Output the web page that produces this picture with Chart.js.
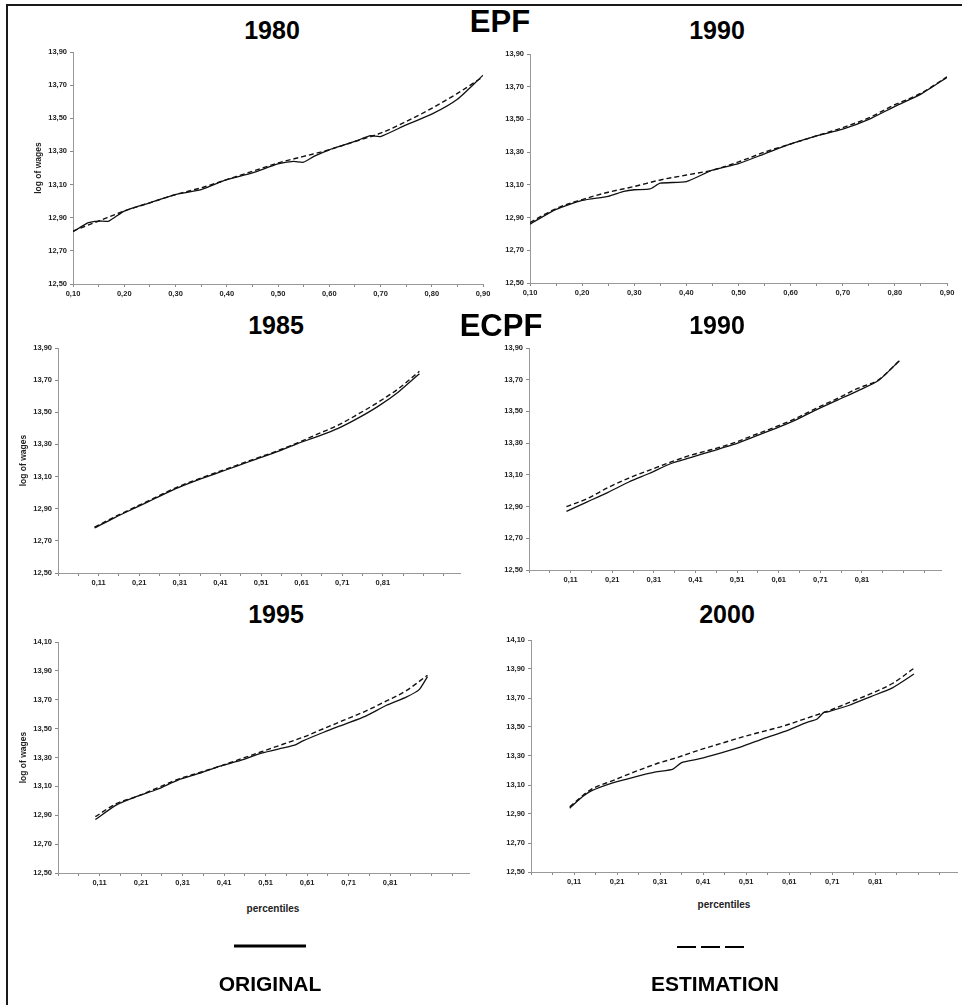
<!DOCTYPE html>
<html lang="en">
<head>
    <meta charset="UTF-8">
    <title>EPF / ECPF log of wages by percentile</title>
    <script src="https://cdn.jsdelivr.net/npm/chart.js"></script>
    <style>
        body {
            margin: 0;
            background: #fff;
            font-family: 'Liberation Sans', Arial, sans-serif;
        }
        #page {
            position: relative;
            width: 962px;
            height: 1005px;
            overflow: hidden;
            background: #fff;
        }
        #page canvas {
            position: absolute;
        }
        .frame {
            position: absolute;
            background: #1a1a1a;
        }
        .lbl {
            position: absolute;
            transform: translate(-50%, -50%);
            font-weight: bold;
            line-height: 1;
            white-space: nowrap;
            color: #000;
        }
        .year { font-size: 25px; }
        .group { font-size: 31px; }
        .axisname { font-size: 10px; color: #222; }
        .legendtext { font-size: 21px; }
    </style>
</head>
<body>
<div id="page">
    <div class="frame" style="left:6px; top:4px; width:956px; height:2px;"></div>
    <div class="frame" style="left:6px; top:4px; width:2px; height:1001px;"></div>

    <div class="lbl year" style="left:272px; top:30px;">1980</div>
    <div class="lbl group" style="left:500px; top:21px;">EPF</div>
    <div class="lbl year" style="left:717px; top:30px;">1990</div>
    <div class="lbl year" style="left:276px; top:325px;">1985</div>
    <div class="lbl group" style="left:501px; top:325px;">ECPF</div>
    <div class="lbl year" style="left:717px; top:325px;">1990</div>
    <div class="lbl year" style="left:276px; top:614px;">1995</div>
    <div class="lbl year" style="left:727px; top:614px;">2000</div>

    <div class="lbl axisname" style="left:273px; top:909px;">percentiles</div>
    <div class="lbl axisname" style="left:724px; top:905px;">percentiles</div>

    <svg style="position:absolute; left:0; top:0;" width="962" height="1005">
        <line x1="234" y1="946" x2="306" y2="946" stroke="#000" stroke-width="3"/>
        <line x1="677" y1="947" x2="744" y2="947" stroke="#000" stroke-width="2" stroke-dasharray="19 5"/>
    </svg>
    <div class="lbl legendtext" style="left:270px; top:983px;">ORIGINAL</div>
    <div class="lbl legendtext" style="left:715px; top:983px;">ESTIMATION</div>
</div>

<script>
    // percentile grid used by the estimations (and most originals)
    const pct = [0.10, 0.15, 0.20, 0.25, 0.30, 0.35, 0.40, 0.45, 0.50, 0.55, 0.60, 0.65, 0.70, 0.75, 0.80, 0.85, 0.90];

    // EPF 1980
    const orig1980Pct = [0.10, 0.13, 0.15, 0.17, 0.20, 0.25, 0.30, 0.35, 0.40, 0.45, 0.50, 0.53, 0.55, 0.57, 0.60, 0.65, 0.68, 0.70, 0.75, 0.80, 0.85, 0.90];
    const orig1980 = [12.815, 12.87, 12.88, 12.88, 12.94, 12.99, 13.04, 13.07, 13.13, 13.17, 13.225, 13.24, 13.235, 13.27, 13.31, 13.36, 13.395, 13.39, 13.46, 13.525, 13.615, 13.76];
    const est1980 = [12.82, 12.88, 12.94, 12.99, 13.04, 13.08, 13.13, 13.18, 13.23, 13.27, 13.31, 13.36, 13.41, 13.48, 13.56, 13.65, 13.75];

    // EPF 1990
    const origEpf1990Pct = [0.10, 0.15, 0.20, 0.25, 0.28, 0.30, 0.33, 0.35, 0.40, 0.45, 0.50, 0.55, 0.60, 0.65, 0.70, 0.75, 0.80, 0.85, 0.90];
    const origEpf1990 = [12.86, 12.95, 13.005, 13.03, 13.06, 13.07, 13.075, 13.11, 13.12, 13.19, 13.23, 13.29, 13.35, 13.40, 13.44, 13.50, 13.58, 13.655, 13.757];
    const estEpf1990 = [12.87, 12.955, 13.01, 13.055, 13.09, 13.13, 13.16, 13.19, 13.24, 13.30, 13.35, 13.40, 13.45, 13.51, 13.59, 13.66, 13.76];

    // ECPF 1985
    const orig1985 = [12.78, 12.845, 12.905, 12.965, 13.025, 13.075, 13.12, 13.165, 13.21, 13.255, 13.305, 13.35, 13.40, 13.465, 13.54, 13.63, 13.74];
    const est1985 = [12.785, 12.85, 12.91, 12.97, 13.03, 13.08, 13.125, 13.17, 13.215, 13.26, 13.31, 13.365, 13.42, 13.49, 13.565, 13.65, 13.755];

    // ECPF 1990
    const origEcpf1990 = [12.87, 12.93, 12.99, 13.055, 13.11, 13.17, 13.21, 13.25, 13.29, 13.34, 13.39, 13.445, 13.51, 13.57, 13.63, 13.695, 13.82];
    const estEcpf1990 = [12.90, 12.95, 13.02, 13.08, 13.13, 13.18, 13.225, 13.26, 13.30, 13.35, 13.40, 13.455, 13.52, 13.58, 13.645, 13.70, 13.82];

    // ECPF 1995
    const orig1995Pct = [0.10, 0.15, 0.20, 0.25, 0.30, 0.35, 0.40, 0.45, 0.50, 0.55, 0.58, 0.60, 0.65, 0.70, 0.75, 0.80, 0.85, 0.88, 0.90];
    const orig1995 = [12.87, 12.97, 13.03, 13.08, 13.145, 13.19, 13.24, 13.28, 13.33, 13.365, 13.385, 13.415, 13.475, 13.53, 13.585, 13.66, 13.72, 13.77, 13.86];
    const est1995 = [12.89, 12.98, 13.03, 13.09, 13.15, 13.195, 13.24, 13.29, 13.34, 13.39, 13.44, 13.50, 13.56, 13.62, 13.69, 13.765, 13.87];

    // ECPF 2000
    const orig2000Pct = [0.10, 0.13, 0.15, 0.20, 0.25, 0.30, 0.34, 0.36, 0.40, 0.45, 0.50, 0.55, 0.60, 0.65, 0.675, 0.69, 0.70, 0.75, 0.80, 0.85, 0.90];
    const orig2000 = [12.94, 13.02, 13.06, 13.115, 13.155, 13.19, 13.21, 13.255, 13.28, 13.32, 13.365, 13.42, 13.47, 13.53, 13.555, 13.60, 13.605, 13.65, 13.71, 13.77, 13.865];
    const est2000 = [12.95, 13.07, 13.13, 13.19, 13.245, 13.29, 13.34, 13.385, 13.43, 13.47, 13.51, 13.56, 13.61, 13.67, 13.73, 13.80, 13.905];

    // axis ticks and labels
    const yTicksShort = [12.50, 12.70, 12.90, 13.10, 13.30, 13.50, 13.70, 13.90];
    const yTicksTall = [12.50, 12.70, 12.90, 13.10, 13.30, 13.50, 13.70, 13.90, 14.10];
    const xTicksEpf = [0.10, 0.15, 0.20, 0.25, 0.30, 0.35, 0.40, 0.45, 0.50, 0.55, 0.60, 0.65, 0.70, 0.75, 0.80, 0.85, 0.90];
    const xLabelsEpf = [0.10, 0.20, 0.30, 0.40, 0.50, 0.60, 0.70, 0.80, 0.90];
    const xTicksEcpf = [0.01, 0.06, 0.11, 0.16, 0.21, 0.26, 0.31, 0.36, 0.41, 0.46, 0.51, 0.56, 0.61, 0.66, 0.71, 0.76, 0.81, 0.86, 0.91, 0.96];
    const xLabelsEcpf = [0.11, 0.21, 0.31, 0.41, 0.51, 0.61, 0.71, 0.81];

    Chart.defaults.font.family = "'Liberation Sans', Arial, sans-serif";
    Chart.defaults.color = '#222';

    const Y_W = 40, X_H = 22, PAD_T = 8, PAD_R = 12;

    const panels = [
        { area: [73, 52, 483, 284], xRange: [0.10, 0.90], xTicks: xTicksEpf, xLabels: xLabelsEpf, yTicks: yTicksShort, yTitle: true,
          orig: [orig1980Pct, orig1980], est: [pct, est1980] },
        { area: [530, 54, 947, 283], xRange: [0.10, 0.90], xTicks: xTicksEpf, xLabels: xLabelsEpf, yTicks: yTicksShort, yTitle: false,
          orig: [origEpf1990Pct, origEpf1990], est: [pct, estEpf1990] },
        { area: [58, 348, 460, 573], xRange: [0.01, 1.00], xTicks: xTicksEcpf, xLabels: xLabelsEcpf, yTicks: yTicksShort, yTitle: true,
          orig: [pct, orig1985], est: [pct, est1985] },
        { area: [529, 348, 941, 570], xRange: [0.01, 1.00], xTicks: xTicksEcpf, xLabels: xLabelsEcpf, yTicks: yTicksShort, yTitle: false,
          orig: [pct, origEcpf1990], est: [pct, estEcpf1990] },
        { area: [58, 642, 469, 873], xRange: [0.01, 1.00], xTicks: xTicksEcpf, xLabels: xLabelsEcpf, yTicks: yTicksTall, yTitle: true,
          orig: [orig1995Pct, orig1995], est: [pct, est1995] },
        { area: [531, 640, 957, 872], xRange: [0.01, 1.00], xTicks: xTicksEcpf, xLabels: xLabelsEcpf, yTicks: yTicksTall, yTitle: false,
          orig: [orig2000Pct, orig2000], est: [pct, est2000] }
    ];

    const fmt = (v) => v.toFixed(2).replace('.', ',');
    const toPoints = (xs, ys) => xs.map((x, i) => ({ x: x, y: ys[i] }));

    const page = document.getElementById('page');

    panels.forEach((p) => {
        const [l, t, r, b] = p.area;
        const canvas = document.createElement('canvas');
        canvas.width = r - l + Y_W + PAD_R;
        canvas.height = b - t + PAD_T + X_H;
        canvas.style.left = (l - Y_W) + 'px';
        canvas.style.top = (t - PAD_T) + 'px';
        page.insertBefore(canvas, page.children[2]);

        const tickFont = { size: 7.5, weight: 'bold' };

        new Chart(canvas, {
            type: 'line',
            data: {
                datasets: [
                    {
                        label: 'ORIGINAL',
                        data: toPoints(p.orig[0], p.orig[1]),
                        borderColor: '#111',
                        borderWidth: 1.3,
                        pointRadius: 0,
                        tension: 0.2,
                        fill: false
                    },
                    {
                        label: 'ESTIMATION',
                        data: toPoints(p.est[0], p.est[1]),
                        borderColor: '#111',
                        borderWidth: 1.4,
                        borderDash: [5, 3],
                        pointRadius: 0,
                        cubicInterpolationMode: 'monotone',
                        fill: false
                    }
                ]
            },
            options: {
                responsive: false,
                devicePixelRatio: 1,
                animation: false,
                layout: { padding: { top: PAD_T, right: PAD_R, left: 0, bottom: 0 } },
                plugins: {
                    legend: { display: false },
                    tooltip: { enabled: false }
                },
                scales: {
                    x: {
                        type: 'linear',
                        min: p.xRange[0],
                        max: p.xRange[1],
                        afterBuildTicks: (scale) => { scale.ticks = p.xTicks.map(v => ({ value: v })); },
                        afterFit: (scale) => { scale.height = X_H; },
                        ticks: {
                            autoSkip: false,
                            maxRotation: 0,
                            minRotation: 0,
                            padding: 2,
                            font: tickFont,
                            color: '#222',
                            callback: (v) => p.xLabels.some(q => Math.abs(q - v) < 1e-6) ? fmt(v) : ''
                        },
                        grid: { drawOnChartArea: false, tickLength: 3, tickColor: '#888' },
                        border: { color: '#999', width: 1 }
                    },
                    y: {
                        type: 'linear',
                        min: p.yTicks[0],
                        max: p.yTicks[p.yTicks.length - 1],
                        afterBuildTicks: (scale) => { scale.ticks = p.yTicks.map(v => ({ value: v })); },
                        afterFit: (scale) => { scale.width = Y_W; },
                        ticks: {
                            padding: 3,
                            font: tickFont,
                            color: '#222',
                            callback: (v) => fmt(v)
                        },
                        title: {
                            display: p.yTitle,
                            text: 'log of wages',
                            font: { size: 8.5, weight: 'bold' },
                            color: '#222',
                            padding: { top: 1, bottom: 0 }
                        },
                        grid: { drawOnChartArea: false, tickLength: 3, tickColor: '#888' },
                        border: { color: '#999', width: 1 }
                    }
                }
            }
        });
    });
</script>
</body>
</html>
